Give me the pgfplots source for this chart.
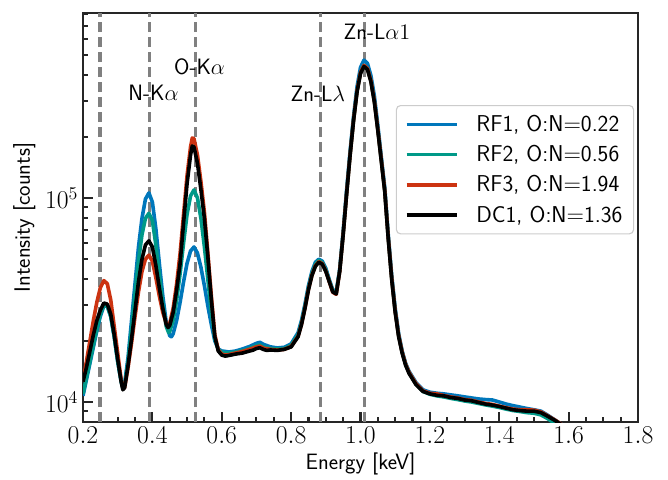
\RequirePackage{fix-cm}
\documentclass[border=0pt]{standalone}
\usepackage{fontspec}
\usepackage{pgfplots}
\pgfplotsset{compat=1.18}
\definecolor{rfone}{RGB}{0,119,187}
\definecolor{rftwo}{RGB}{0,153,136}
\definecolor{rfthree}{RGB}{204,51,17}
\definecolor{spine}{RGB}{38,38,38}
\definecolor{markgray}{RGB}{128,128,128}

\begin{document}
\sffamily
\begin{tikzpicture}
\begin{axis}[
    name=ax,
    scale only axis,
    width=399.6pt, height=294.5pt,
    ymode=log,
    xmin=0.2, xmax=1.8,
    ymin=7980, ymax=807000,
    xtick={0.2,0.4,0.6,0.8,1.0,1.2,1.4,1.6,1.8},
    minor x tick num=3,
    ytick={1e4,1e5},
    minor ytick={9000,2e4,3e4,4e4,5e4,6e4,7e4,8e4,9e4,2e5,3e5,4e5,5e5,6e5,7e5,8e5},
    xticklabel style={/pgf/number format/.cd,fixed,fixed zerofill,precision=1},
    tick align=inside,
    xtick pos=bottom, ytick pos=left,
    major tick length=7pt, minor tick length=3.6pt,
    tick style={spine, line width=1.5pt},
    axis line style={spine, line width=2pt},
    ticklabel style={font=\fontsize{18.5}{21}\selectfont},
    label style={font=\sffamily\fontsize{16}{19}\selectfont},
    xlabel={Energy [keV]},
    ylabel={Intensity [counts]},
    legend style={
        at={(0.993,0.775)}, anchor=north east,
        draw=black!20, line width=0.8pt, rounded corners=3pt,
        fill=white, fill opacity=0.8, text opacity=1,
        font=\sffamily\fontsize{16.5}{19}\selectfont,
        inner xsep=6pt, inner ysep=5pt, row sep=4.5pt,
        /tikz/every odd column/.append style={column sep=11pt},
    },
    legend cell align=left,
    legend image code/.code={\draw[#1] (0pt,0pt) -- (36pt,0pt);},
    every axis plot/.append style={line join=round},
]

% reference lines
\addplot[markgray, line width=2.4pt, dash pattern=on 7.2pt off 3.6pt, forget plot] coordinates {(0.249,7980) (0.249,807000)};
\addplot[markgray, line width=2.4pt, dash pattern=on 7.2pt off 3.6pt, forget plot] coordinates {(0.392,7980) (0.392,807000)};
\addplot[markgray, line width=2.4pt, dash pattern=on 7.2pt off 3.6pt, forget plot] coordinates {(0.525,7980) (0.525,807000)};
\addplot[markgray, line width=2.4pt, dash pattern=on 7.2pt off 3.6pt, forget plot] coordinates {(0.884,7980) (0.884,807000)};
\addplot[markgray, line width=2.4pt, dash pattern=on 7.2pt off 3.6pt, forget plot] coordinates {(1.012,7980) (1.012,807000)};

% RF1
\addplot[rfone, line width=2.6pt] coordinates {
(0.20,10720)(0.21,12880)(0.22,15490)(0.23,18620)(0.24,22390)(0.25,26300)(0.26,29510)(0.27,29510)
(0.28,26300)(0.29,20890)(0.30,15850)(0.31,12590)(0.315,11750)(0.32,12300)(0.33,16600)(0.34,25120)
(0.35,38020)(0.36,57540)(0.37,79430)(0.38,98850)(0.39,105900)(0.40,95500)(0.41,70790)(0.42,47860)
(0.43,33110)(0.44,24550)(0.45,21130)(0.455,20890)(0.46,21630)(0.47,25120)(0.48,30900)(0.49,38900)
(0.50,47860)(0.51,54950)(0.52,57540)(0.53,53700)(0.54,45710)(0.55,37150)(0.56,29510)(0.57,23990)
(0.58,19950)(0.59,18200)(0.60,17780)(0.61,17700)(0.62,17580)(0.64,17780)(0.66,18200)(0.68,18710)
(0.70,19400)(0.71,19620)(0.72,19170)(0.74,18640)(0.76,18410)(0.78,18540)(0.80,19280)(0.82,21880)
(0.83,25120)(0.84,30200)(0.85,37150)(0.86,43650)(0.87,48420)(0.88,50120)(0.89,48980)(0.90,45190)
(0.91,39810)(0.92,35480)(0.93,34670)(0.94,44670)(0.95,68390)(0.96,109600)(0.97,169800)(0.98,251200)
(0.99,350800)(1.00,436500)(1.01,474200)(1.02,457100)(1.03,398100)(1.04,316200)(1.05,226500)(1.06,158500)
(1.07,112200)(1.08,66070)(1.09,41690)(1.10,28840)(1.11,21630)(1.12,17780)(1.13,15490)(1.14,14130)
(1.16,12450)(1.18,11480)(1.20,11170)(1.22,11040)(1.24,10960)(1.26,10840)(1.28,10720)(1.30,10590)
(1.32,10470)(1.34,10350)(1.36,10280)(1.38,10230)(1.40,10000)(1.42,9770)(1.44,9590)(1.46,9440)
(1.48,9290)(1.50,9160)(1.52,9020)(1.54,8610)(1.56,8170)(1.58,7760)(1.60,7280)
};
\addlegendentry{RF1, O:N$=$0.22}

% RF2
\addplot[rftwo, line width=2.6pt] coordinates {
(0.20,10960)(0.21,13180)(0.22,15850)(0.23,19050)(0.24,22910)(0.25,26920)(0.26,29850)(0.27,29510)
(0.28,26300)(0.29,20890)(0.30,15850)(0.31,12590)(0.315,11610)(0.32,12020)(0.33,15850)(0.34,22910)
(0.35,33880)(0.36,48980)(0.37,66070)(0.38,79430)(0.39,84140)(0.40,77620)(0.41,58880)(0.42,41690)
(0.43,30200)(0.44,23440)(0.447,21880)(0.45,22130)(0.46,25120)(0.47,31620)(0.48,42660)(0.49,60260)
(0.50,83180)(0.51,102300)(0.52,109600)(0.53,100000)(0.54,79430)(0.55,57540)(0.56,39810)(0.57,27540)
(0.58,20420)(0.59,17990)(0.60,17580)(0.61,17380)(0.62,17380)(0.64,17580)(0.66,17860)(0.68,18280)
(0.70,18900)(0.71,19050)(0.72,18640)(0.74,18280)(0.76,18200)(0.78,18280)(0.80,18970)(0.82,21380)
(0.83,24550)(0.84,29510)(0.85,36310)(0.86,42660)(0.87,47320)(0.88,49550)(0.89,48190)(0.90,44460)
(0.91,39360)(0.92,35080)(0.93,34280)(0.94,44160)(0.95,66830)(0.96,105900)(0.97,164100)(0.98,242700)
(0.99,335000)(1.00,412100)(1.01,446700)(1.02,431500)(1.03,375800)(1.04,298500)(1.05,216300)(1.06,153100)
(1.07,108400)(1.08,63830)(1.09,40270)(1.10,27860)(1.11,21130)(1.12,17580)(1.13,15310)(1.14,13960)
(1.16,12250)(1.18,11270)(1.20,10910)(1.22,10720)(1.24,10590)(1.26,10420)(1.28,10280)(1.30,10120)
(1.32,10000)(1.34,9840)(1.36,9680)(1.38,9550)(1.40,9400)(1.42,9230)(1.44,9080)(1.46,8980)
(1.48,8870)(1.50,8810)(1.52,8650)(1.54,8280)(1.56,7850)(1.58,7410)(1.60,6920)
};
\addlegendentry{RF2, O:N$=$0.56}

% RF3
\addplot[rfthree, line width=2.6pt] coordinates {
(0.20,12590)(0.21,15850)(0.22,19950)(0.23,25120)(0.24,30900)(0.25,36310)(0.26,39360)(0.27,38020)
(0.28,31620)(0.29,23440)(0.30,17380)(0.31,12880)(0.315,11610)(0.32,11750)(0.33,14790)(0.34,19500)
(0.35,26300)(0.36,34670)(0.37,43650)(0.38,50120)(0.39,52480)(0.40,48980)(0.41,40740)(0.42,33110)
(0.43,27540)(0.44,24270)(0.445,23710)(0.45,24270)(0.46,28840)(0.47,38020)(0.48,53700)(0.49,83180)
(0.50,128800)(0.51,177800)(0.515,196800)(0.52,195000)(0.53,162200)(0.54,120200)(0.55,85110)(0.56,53700)
(0.57,33110)(0.58,21380)(0.59,17990)(0.60,17180)(0.61,16980)(0.62,17060)(0.64,17380)(0.66,17700)
(0.68,18110)(0.70,18640)(0.71,18800)(0.72,18380)(0.74,18110)(0.76,17990)(0.78,18110)(0.80,18710)
(0.82,20990)(0.83,24100)(0.84,28970)(0.85,35650)(0.86,41880)(0.87,46560)(0.88,48750)(0.89,47640)
(0.90,43850)(0.91,38900)(0.92,34510)(0.93,33730)(0.94,43650)(0.95,66370)(0.96,105200)(0.97,162900)
(0.98,241500)(0.99,334200)(1.00,412100)(1.01,446700)(1.02,431500)(1.03,375800)(1.04,298500)(1.05,216300)
(1.06,153100)(1.07,108400)(1.08,63830)(1.09,40270)(1.10,27860)(1.11,21130)(1.12,17580)(1.13,15310)
(1.14,13960)(1.16,12300)(1.18,11350)(1.20,11040)(1.22,10960)(1.24,10760)(1.26,10590)(1.28,10470)
(1.30,10280)(1.32,10190)(1.34,10000)(1.36,9840)(1.38,9730)(1.40,9550)(1.42,9380)(1.44,9230)
(1.46,9160)(1.48,9160)(1.50,9120)(1.52,8950)(1.54,8550)(1.56,8170)(1.58,7760)(1.60,7280)
};
\addlegendentry{RF3, O:N$=$1.94}

% DC1
\addplot[black, line width=2.6pt] coordinates {
(0.20,12590)(0.21,14790)(0.22,17780)(0.23,21380)(0.24,25120)(0.25,28180)(0.26,30550)(0.27,30200)
(0.28,26920)(0.29,21380)(0.30,16220)(0.31,12590)(0.315,11480)(0.32,11750)(0.33,15140)(0.34,20420)
(0.35,28180)(0.36,38900)(0.37,50120)(0.38,58880)(0.39,61660)(0.40,57540)(0.41,46770)(0.42,36310)
(0.43,28840)(0.44,23990)(0.445,23170)(0.45,23710)(0.46,27540)(0.47,35480)(0.48,47860)(0.49,75860)
(0.50,117500)(0.51,162200)(0.515,179900)(0.52,177800)(0.53,147900)(0.54,109600)(0.55,79430)(0.56,51290)
(0.57,31620)(0.58,20890)(0.59,17780)(0.60,16980)(0.61,16790)(0.62,16900)(0.64,17180)(0.66,17380)
(0.68,17780)(0.69,17950)(0.70,18300)(0.71,18450)(0.72,18100)(0.73,17900)(0.74,17990)(0.76,17910)
(0.78,18110)(0.80,18620)(0.82,20890)(0.83,23990)(0.84,28840)(0.85,35480)(0.86,41690)(0.87,46240)
(0.88,48420)(0.89,47320)(0.90,43650)(0.91,38900)(0.92,34670)(0.93,33880)(0.94,43650)(0.95,66070)
(0.96,104700)(0.97,162200)(0.98,239900)(0.99,331100)(1.00,407400)(1.01,441600)(1.02,426600)(1.03,371500)
(1.04,295100)(1.05,213800)(1.06,151400)(1.07,107200)(1.08,63100)(1.09,39810)(1.10,27540)(1.11,20890)
(1.12,17380)(1.13,15140)(1.14,13800)(1.16,12160)(1.18,11270)(1.20,10960)(1.22,10790)(1.24,10720)
(1.26,10520)(1.28,10420)(1.30,10230)(1.32,10140)(1.34,9950)(1.36,9770)(1.38,9660)(1.40,9510)
(1.42,9330)(1.44,9160)(1.46,9080)(1.48,9020)(1.50,9020)(1.52,8870)(1.54,8510)(1.56,8130)
(1.58,7730)(1.60,7240)
};
\addlegendentry{DC1, O:N$=$1.36}

% line labels
\node[anchor=base, font=\sffamily\fontsize{16}{19}\selectfont] at (axis cs:0.403,302000) {N-K$\alpha$};
\node[anchor=base, font=\sffamily\fontsize{16}{19}\selectfont] at (axis cs:0.536,401000) {O-K$\alpha$};
\node[anchor=base, font=\sffamily\fontsize{16}{19}\selectfont] at (axis cs:0.877,297000) {Zn-L$\lambda$};
\node[anchor=base, font=\sffamily\fontsize{16}{19}\selectfont] at (axis cs:1.0475,601000) {Zn-L$\alpha 1$};
\end{axis}
\path ([xshift=-59.76pt,yshift=-41.04pt]ax.south west) rectangle ([xshift=21.6pt,yshift=9.36pt]ax.north east);
\end{tikzpicture}
\end{document}
